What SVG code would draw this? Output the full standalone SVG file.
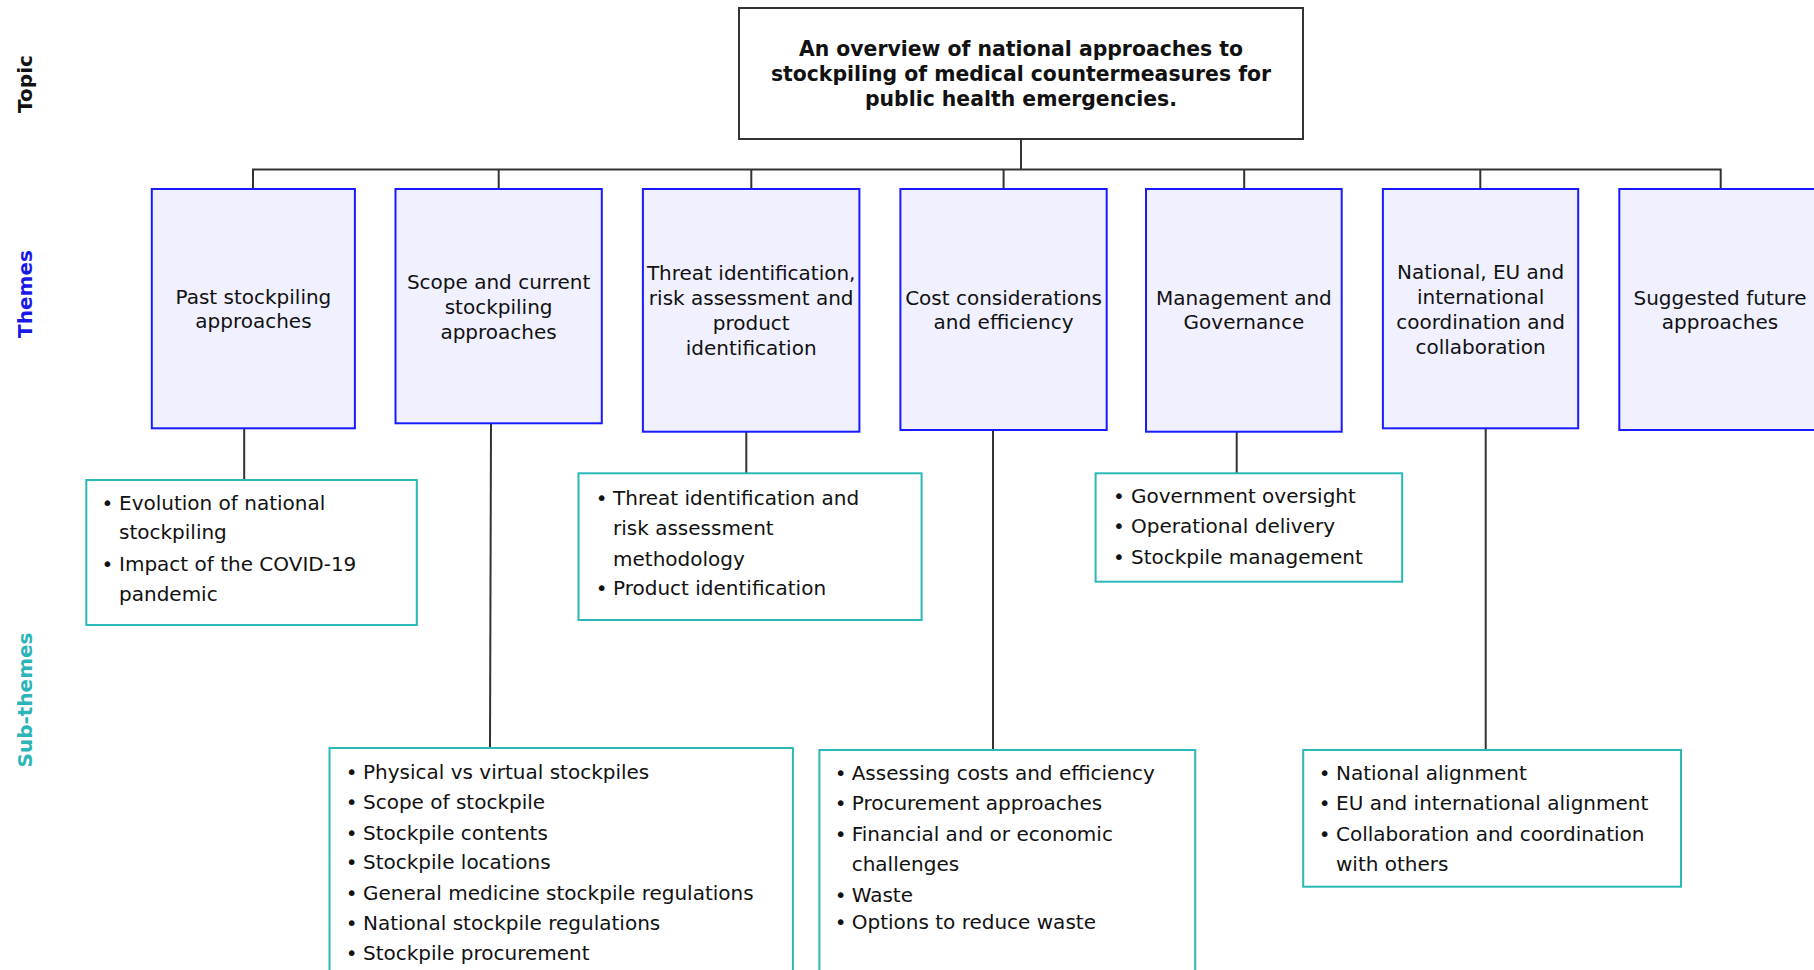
<svg xmlns="http://www.w3.org/2000/svg" width="1814" height="970" viewBox="0 0 1814 970">
<style>
.bg{fill:#ffffff}
.topic{fill:#ffffff;stroke:#333333;stroke-width:2}
.theme{fill:#f0f0ff;stroke:#1a1aff;stroke-width:2}
.sub{fill:#ffffff;stroke:#2bb8b8;stroke-width:2}
.conn{fill:none;stroke:#333333;stroke-width:2}
text{font-family:"DejaVu Sans","Verdana",sans-serif;font-size:20px;fill:#111111}
.tt{font-weight:bold;text-anchor:middle;font-size:20.4px}
.th{text-anchor:middle}
.side{font-weight:bold;text-anchor:middle}
.bul{text-anchor:middle}
</style>
<rect class="bg" x="0" y="0" width="1814" height="970"/>

<g id="side-labels">
<text class="side" transform="translate(31.5,84) rotate(-90)">Topic</text>
<text class="side" transform="translate(31.5,294) rotate(-90)" style="fill:#1a1ae6">Themes</text>
<text class="side" transform="translate(31.5,700) rotate(-90)" style="fill:#2bb5b8">Sub-themes</text>
</g>

<g id="connectors">
<path class="conn" d="M1021 139 V169.5"/>
<path class="conn" d="M253 189 V169.5 H1720.7 V189"/>
<path class="conn" d="M498.7 169.5 V189"/>
<path class="conn" d="M751.3 169.5 V189"/>
<path class="conn" d="M1003.6 169.5 V189"/>
<path class="conn" d="M1244.2 169.5 V189"/>
<path class="conn" d="M1480.3 169.5 V189"/>
<path class="conn" d="M244.2 428 V480"/>
<path class="conn" d="M491 423 L490 748"/>
<path class="conn" d="M746.3 431.7 V473.3"/>
<path class="conn" d="M993 430 V750"/>
<path class="conn" d="M1236.7 431.7 V473.3"/>
<path class="conn" d="M1485.7 428.3 V750"/>
</g>

<g id="topic">
<rect class="topic" x="739" y="8" width="564" height="131"/>
<text class="tt" x="1021" y="56">An overview of national approaches to</text>
<text class="tt" x="1021" y="81">stockpiling of medical countermeasures for</text>
<text class="tt" x="1021" y="106">public health emergencies.</text>
</g>

<g id="theme-past">
<rect class="theme" x="151.8" y="189" width="203.1" height="239.3"/>
<text class="th" x="253.4" y="304">Past stockpiling</text>
<text class="th" x="253.4" y="328">approaches</text>
</g>
<g id="theme-scope">
<rect class="theme" x="395.5" y="189" width="206.3" height="234.3"/>
<text class="th" x="498.6" y="289">Scope and current</text>
<text class="th" x="498.6" y="314">stockpiling</text>
<text class="th" x="498.6" y="339">approaches</text>
</g>
<g id="theme-threat">
<rect class="theme" x="642.9" y="189" width="216.5" height="242.7"/>
<text class="th" x="751.2" y="280">Threat identification,</text>
<text class="th" x="751.2" y="305">risk assessment and</text>
<text class="th" x="751.2" y="330">product</text>
<text class="th" x="751.2" y="355">identification</text>
</g>
<g id="theme-cost">
<rect class="theme" x="900.4" y="189" width="206.3" height="241"/>
<text class="th" x="1003.6" y="305">Cost considerations</text>
<text class="th" x="1003.6" y="329">and efficiency</text>
</g>
<g id="theme-management">
<rect class="theme" x="1146" y="189" width="195.7" height="242.7"/>
<text class="th" x="1243.9" y="305">Management and</text>
<text class="th" x="1243.9" y="329">Governance</text>
</g>
<g id="theme-national">
<rect class="theme" x="1382.9" y="189" width="195.3" height="239.3"/>
<text class="th" x="1480.6" y="279">National, EU and</text>
<text class="th" x="1480.6" y="304">international</text>
<text class="th" x="1480.6" y="329">coordination and</text>
<text class="th" x="1480.6" y="354">collaboration</text>
</g>
<g id="theme-future">
<rect class="theme" x="1619.3" y="189" width="205" height="241"/>
<text class="th" x="1720" y="305">Suggested future</text>
<text class="th" x="1720" y="329">approaches</text>
</g>

<g id="sub-past">
<rect class="sub" x="86.3" y="480" width="330.5" height="145"/>
<text class="bul" x="107.5" y="510">•</text><text x="119" y="510">Evolution of national</text>
<text x="119" y="539">stockpiling</text>
<text class="bul" x="107.5" y="571">•</text><text x="119" y="571">Impact of the COVID-19</text>
<text x="119" y="601">pandemic</text>
</g>
<g id="sub-scope">
<rect class="sub" x="329.5" y="748" width="463.4" height="240"/>
<text class="bul" x="351.7" y="779">•</text><text x="363" y="779">Physical vs virtual stockpiles</text>
<text class="bul" x="351.7" y="809">•</text><text x="363" y="809">Scope of stockpile</text>
<text class="bul" x="351.7" y="840">•</text><text x="363" y="840">Stockpile contents</text>
<text class="bul" x="351.7" y="869">•</text><text x="363" y="869">Stockpile locations</text>
<text class="bul" x="351.7" y="900">•</text><text x="363" y="900">General medicine stockpile regulations</text>
<text class="bul" x="351.7" y="930">•</text><text x="363" y="930">National stockpile regulations</text>
<text class="bul" x="351.7" y="960">•</text><text x="363" y="960">Stockpile procurement</text>
</g>
<g id="sub-threat">
<rect class="sub" x="578.5" y="473.3" width="343.1" height="146.7"/>
<text class="bul" x="601.7" y="505">•</text><text x="613" y="505">Threat identification and</text>
<text x="613" y="535">risk assessment</text>
<text x="613" y="566">methodology</text>
<text class="bul" x="601.7" y="595">•</text><text x="613" y="595">Product identification</text>
</g>
<g id="sub-cost">
<rect class="sub" x="819.4" y="750" width="375.8" height="240"/>
<text class="bul" x="840.7" y="780">•</text><text x="851.7" y="780">Assessing costs and efficiency</text>
<text class="bul" x="840.7" y="810">•</text><text x="851.7" y="810">Procurement approaches</text>
<text class="bul" x="840.7" y="841">•</text><text x="851.7" y="841">Financial and or economic</text>
<text x="851.7" y="871">challenges</text>
<text class="bul" x="840.7" y="902">•</text><text x="851.7" y="902">Waste</text>
<text class="bul" x="840.7" y="929">•</text><text x="851.7" y="929">Options to reduce waste</text>
</g>
<g id="sub-management">
<rect class="sub" x="1095.6" y="473.3" width="306.6" height="108.4"/>
<text class="bul" x="1119" y="503">•</text><text x="1131" y="503">Government oversight</text>
<text class="bul" x="1119" y="533">•</text><text x="1131" y="533">Operational delivery</text>
<text class="bul" x="1119" y="564">•</text><text x="1131" y="564">Stockpile management</text>
</g>
<g id="sub-national">
<rect class="sub" x="1303.2" y="750" width="377.8" height="136.7"/>
<text class="bul" x="1324.6" y="780">•</text><text x="1336" y="780">National alignment</text>
<text class="bul" x="1324.6" y="810">•</text><text x="1336" y="810">EU and international alignment</text>
<text class="bul" x="1324.6" y="841">•</text><text x="1336" y="841">Collaboration and coordination</text>
<text x="1336" y="871">with others</text>
</g>
</svg>
